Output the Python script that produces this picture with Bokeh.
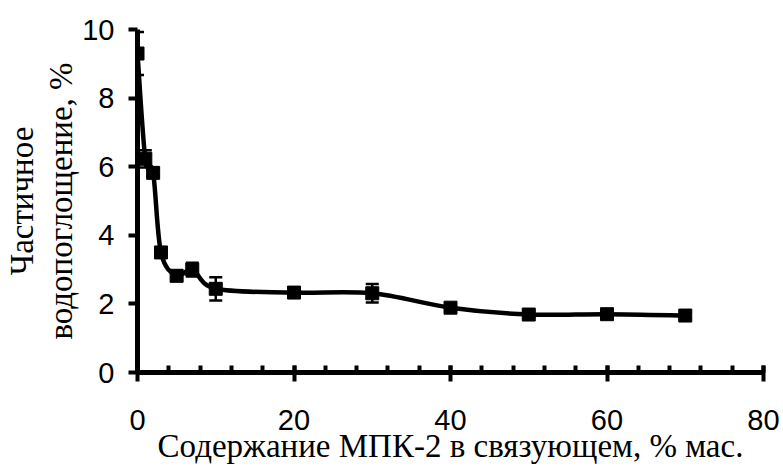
from bokeh.plotting import figure
from bokeh.models import (ColumnDataSource, Range1d, SingleIntervalTicker, FixedTicker,
                          LinearAxis, Whisker, TeeHead)
from bokeh.embed import file_html
from bokeh.resources import INLINE

# ---- data ----
content = [0, 1, 2, 3, 5, 7, 10, 20, 30, 40, 50, 60, 70]
absorption = [9.3, 6.23, 5.82, 3.5, 2.82, 3.0, 2.44, 2.33, 2.31, 1.89, 1.69, 1.70, 1.66]
error = [0.63, 0.25, 0.10, 0.10, 0.15, 0.20, 0.34, 0.08, 0.27, 0.08, 0.08, 0.08, 0.08]
x_ticks_interval = 20
y_ticks_interval = 2
x_title = "Содержание МПК-2 в связующем, % мас."
y_title_1 = "Частичное"
y_title_2 = "водопоглощение, %"

p = figure(width=783, height=466, output_backend="svg", toolbar_location=None,
           x_range=Range1d(0, 80), y_range=Range1d(0, 10),
           min_border_left=137, min_border_right=20, min_border_top=29,
           min_border_bottom=94)
p.outline_line_color = None
p.xgrid.visible = False
p.ygrid.visible = False
p.background_fill_color = "white"
p.border_fill_color = "white"

# smooth curve (Excel-like cubic Bezier through the points)
n = len(content)
x0s, y0s, x1s, y1s, cx0s, cy0s, cx1s, cy1s = [], [], [], [], [], [], [], []
for i in range(n - 1):
    pm = max(i - 1, 0)
    pp = min(i + 2, n - 1)
    xa, ya = content[i], absorption[i]
    xb, yb = content[i + 1], absorption[i + 1]
    x0s.append(xa); y0s.append(ya); x1s.append(xb); y1s.append(yb)
    cx0s.append(xa + (xb - content[pm]) / 6.0)
    cy0s.append(ya + (yb - absorption[pm]) / 6.0)
    cx1s.append(xb - (content[pp] - xa) / 6.0)
    cy1s.append(yb - (absorption[pp] - ya) / 6.0)
p.bezier(x0=x0s, y0=y0s, x1=x1s, y1=y1s, cx0=cx0s, cy0=cy0s, cx1=cx1s, cy1=cy1s,
         line_color="black", line_width=4.5)

src = ColumnDataSource(dict(x=content, y=absorption,
                            upper=[a + e for a, e in zip(absorption, error)],
                            lower=[a - e for a, e in zip(absorption, error)]))
w = Whisker(source=src, base="x", upper="upper", lower="lower",
            line_color="black", line_width=2.5,
            upper_head=TeeHead(size=13, line_width=2.5, line_color="black"),
            lower_head=TeeHead(size=13, line_width=2.5, line_color="black"))
p.add_layout(w)
p.scatter("x", "y", source=src, marker="square", size=13,
          fill_color="black", line_color="black")

# axes
for ax in (p.xaxis[0], p.yaxis[0]):
    ax.axis_line_width = 5
    ax.axis_line_color = "black"
    ax.major_tick_line_width = 4
    ax.major_tick_line_color = "black"
    ax.minor_tick_line_width = 4
    ax.minor_tick_line_color = "black"
    ax.major_label_text_font = "Liberation Sans"
    ax.major_label_text_font_size = "29px"
    ax.major_label_text_color = "black"
    ax.axis_label_text_font = "Liberation Serif"
    ax.axis_label_text_font_size = "33px"
    ax.axis_label_text_font_style = "normal"
    ax.axis_label_text_color = "black"

p.xaxis.ticker = SingleIntervalTicker(interval=x_ticks_interval, num_minor_ticks=5)
p.xaxis.major_tick_in = 7
p.xaxis.major_tick_out = 9
p.xaxis.minor_tick_in = 7
p.xaxis.minor_tick_out = 0
p.xaxis.major_label_standoff = 28
p.xaxis.axis_label = x_title
p.xaxis.axis_label_standoff = -5

p.yaxis.ticker = SingleIntervalTicker(interval=y_ticks_interval, num_minor_ticks=0)
p.yaxis.major_tick_in = 0
p.yaxis.major_tick_out = 9
p.yaxis.minor_tick_in = 0
p.yaxis.minor_tick_out = 0
p.yaxis.major_label_standoff = 14
p.yaxis.axis_label = y_title_2
p.yaxis.axis_label_standoff = 0

# outer line of the two-line y title
ax2 = LinearAxis(ticker=FixedTicker(ticks=[]), axis_label=y_title_1,
                 axis_line_color=None, major_tick_line_color=None,
                 minor_tick_line_color=None, major_tick_in=0, major_tick_out=0,
                 minor_tick_in=0, minor_tick_out=0, major_label_standoff=0,
                 axis_label_standoff=1, axis_label_text_font="Liberation Serif",
                 axis_label_text_font_size="33px", axis_label_text_font_style="normal",
                 axis_label_text_color="black")
p.add_layout(ax2, "left")

open("out.html", "w").write(file_html(p, INLINE))
